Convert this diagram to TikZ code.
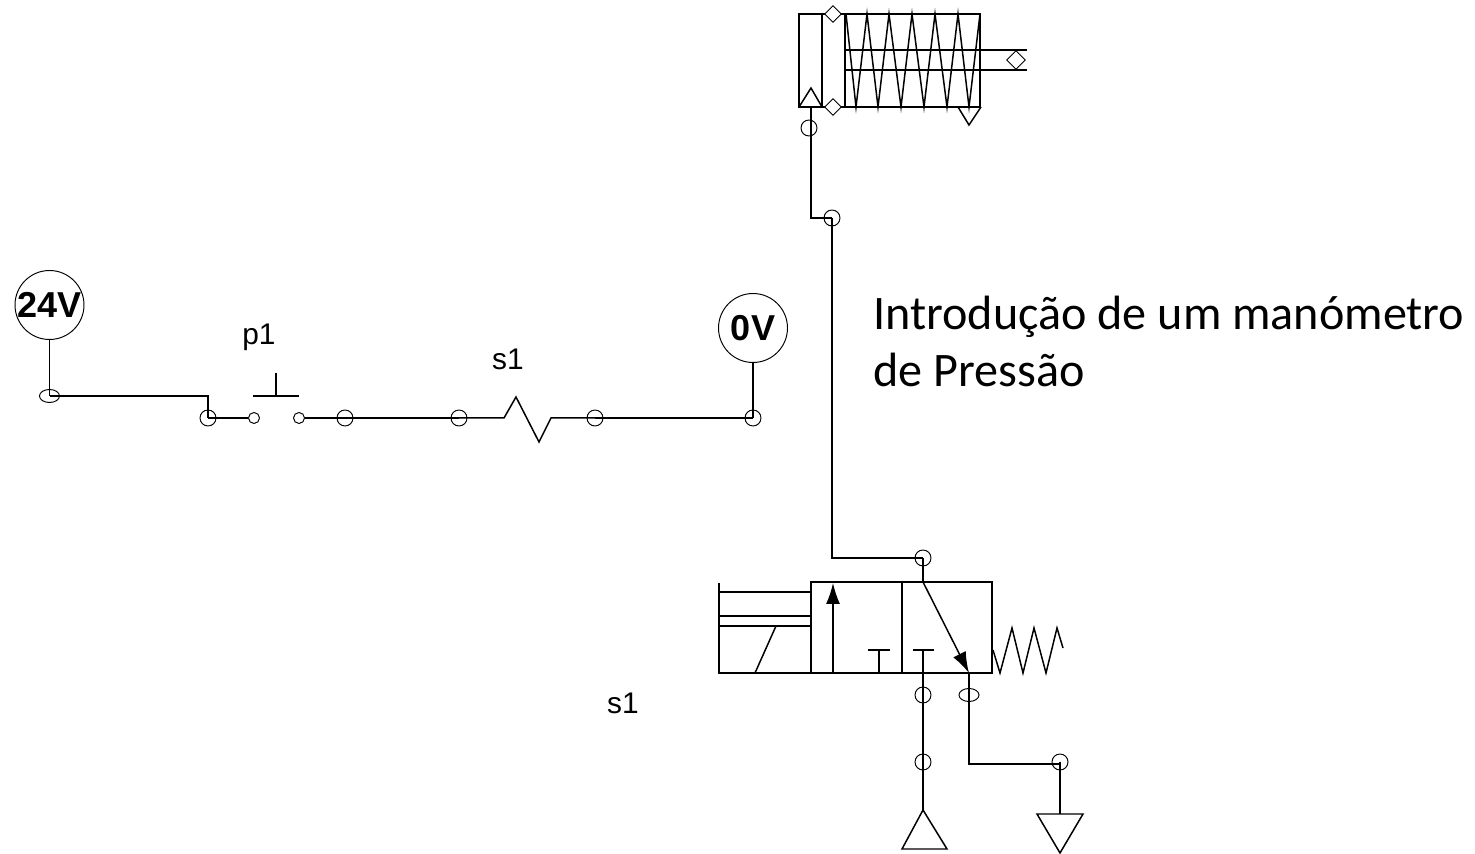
\documentclass[tikz,border=0pt]{standalone}
\usepackage{fontspec}
\setmainfont{Carlito}
\newfontfamily\arialfont{Liberation Sans}
\usetikzlibrary{arrows.meta,shapes.geometric}
\tikzset{
    wire/.style={line width=.85pt},
    term/.style={circle, draw, line width=.55pt, minimum size=.32cm, inner sep=0pt},
    termoval/.style={ellipse, draw, line width=.55pt, minimum width=.4cm, minimum height=.26cm, inner sep=0pt},
    contact/.style={circle, draw, line width=.55pt, minimum size=.22cm, inner sep=0pt},
    supply/.style={circle, draw, line width=.55pt, minimum size=1.38cm, inner sep=0pt, font=\arialfont\bfseries\fontsize{20.5}{20.5}\selectfont},
    tag/.style={font=\arialfont\fontsize{17}{17}\selectfont},
    note/.style={font=\fontsize{27.4}{32.5}\selectfont, align=left, anchor=north west, inner sep=0pt},
    port/.style={diamond, draw, line width=.55pt, minimum size=.34cm, inner sep=0pt}
}
\begin{document}
\begin{tikzpicture}[>={Latex[length=.42cm,width=.28cm]}, x=.02cm, y=-.02cm]
    \useasboundingbox (0,0) rectangle (1475,854);

    % electrical side
    \node[supply] (vhigh) at (49.5,305) {24V};
    \node[supply] (vlow) at (753,328) {0V};
    \node[termoval] (n1) at (49.5,396) {};
    \foreach \name/\x/\y in {n2/208/418, n3/345/418, n4/459/418, n5/595/418, n6/753/418}
    {
        \node[term] (\name) at (\x,\y) {};
    }
    \node[contact] (c1) at (254,418) {};
    \node[contact] (c2) at (299,418) {};
    \draw[wire] (vhigh) -- (n1.center);
    \draw[wire] (n1.center) -| (n2.center);
    \draw[wire] (n2.center) -- (c1);
    \draw[wire] (c2) -- (n3.center) -- (n4.center);
    \draw[wire] (n4.center) -- (504,418)--(516,397)--(539,442)--(551,418) -- (n5.center);
    \draw[wire] (n5.center) -- (n6.center);
    \draw[wire] (vlow) -- (n6.center);
    \draw[wire] (253,396)--(299,396) (276,373)--(276,396);
    \node[tag] (p1) at (259,337) {p1};
    \node[tag] (s1a) at (508,359) {s1};
    \node[tag] (s1b) at (623,703) {s1};

    % cylinder
    \draw[wire] (799,14) rectangle (980,107);
    \draw[wire] (822,14)--(822,107) (845,14)--(845,107);
    \draw[wire] (845,50)--(1027,50) (845,70)--(1027,70);
    \draw[wire] (846,14)
        \foreach \x in {856,878,901,924,947,969} {--(\x,107)--(\x+11,14)};
    \draw[wire] (799,107)--(811,88)--(822,107);
    \draw[wire] (958,107)--(969,125)--(981,107);
    \node[port, fill=white] (d1) at (833,14) {};
    \node[port, fill=white] (d2) at (833,107) {};
    \node[port, minimum size=.38cm] (d3) at (1016,60) {};

    % air line
    \node[term] (a1) at (809,128) {};
    \node[term] (a2) at (832,218) {};
    \node[term] (a3) at (923,558) {};
    \coordinate (cylport) at (811,107);
    \coordinate (elbow) at (811,218);
    \draw[wire] (cylport)--(elbow)--(a2.center);
    \draw[wire] (a2.center) |- (a3.center);

    % valve
    \draw[wire] (811,582) rectangle (992,673);
    \draw[wire] (902,582)--(902,673);
    \draw[wire] (719,583)--(719,673)--(811,673);
    \foreach \y in {592,616,626}
    {
        \draw[wire] (719,\y)--(811,\y);
    }
    \draw[wire] (755,673)--(776,626);
    \draw[wire,->] (833,673)--(833,583);
    \draw[wire] (868,650)--(890,650) (879,650)--(879,673);
    \draw[wire] (913,650)--(934,650);
    \coordinate (valvein) at (923,582);
    \coordinate (valveout) at (969,673);
    \draw[wire] (a3.center)--(valvein);
    \draw[wire,->] (valvein)--(valveout);
    \draw[wire] (993,650)--(1000,673)--(1012,628)--(1023,673)--(1034,628)--(1046,673)--(1057,628)--(1063,648);

    % supply and exhaust
    \node[term] (b1) at (923,695) {};
    \node[termoval] (b2) at (969,695) {};
    \node[term] (b3) at (923,762) {};
    \node[term] (b4) at (1060,762) {};
    \coordinate (pressure) at (923,810);
    \coordinate (exhaust) at (1060,814);
    \coordinate (bend) at (969,764);
    \draw[wire] (923,650)--(b1.center)--(b3.center)--(pressure);
    \draw[wire] (valveout)--(bend)--(b4.center |- bend);
    \draw[wire] (b4.center)--(exhaust);
    \draw[wire] (pressure)--(902,849)--(947,849)--cycle;
    \draw[wire] (1037,814)--(1083,814)--(1060,853)--cycle;

    \node[note] (txt) at (873,296) {Introdução de um manómetro\\de Pressão};
\end{tikzpicture}
\end{document}
